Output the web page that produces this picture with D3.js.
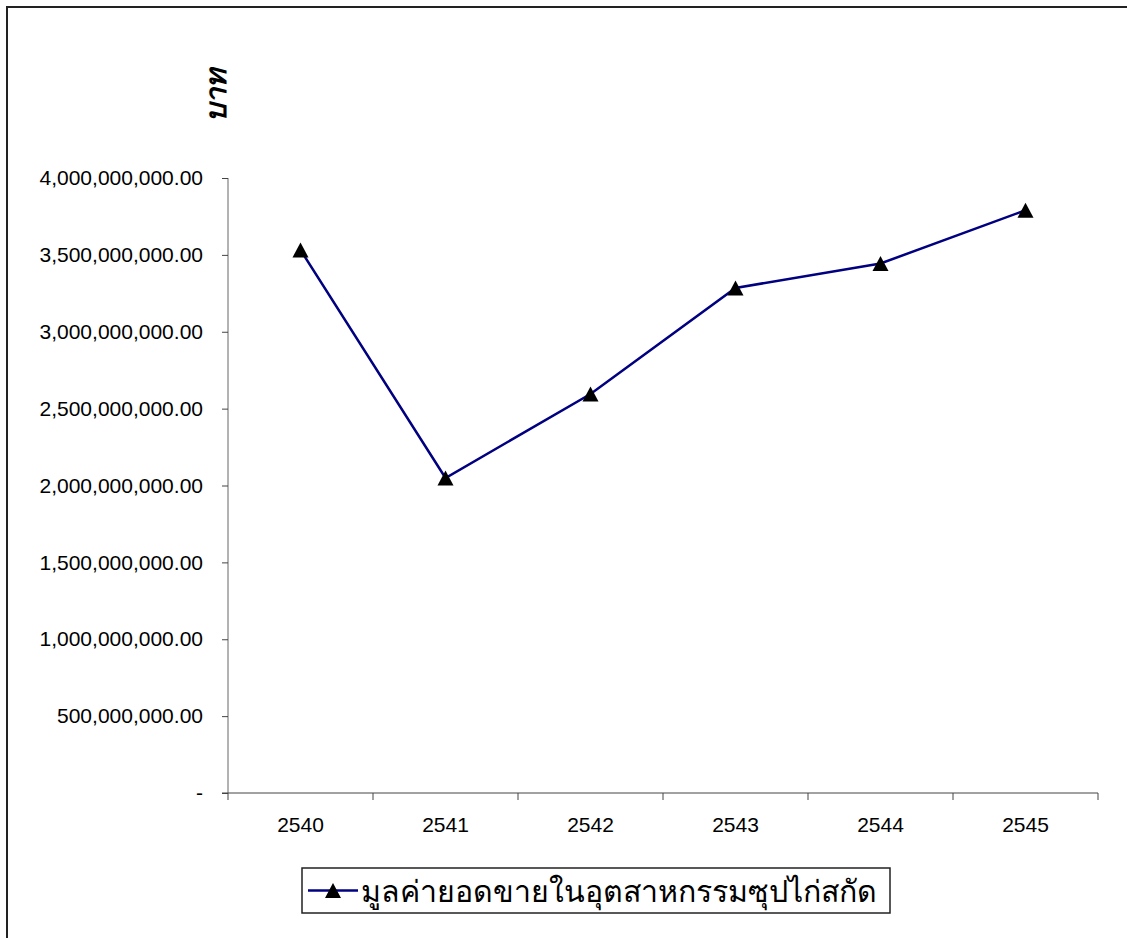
<!DOCTYPE html>
<html>
<head>
<meta charset="utf-8">
<script src="https://cdn.jsdelivr.net/npm/d3@7"></script>
<style>
  html, body { margin: 0; padding: 0; background: #fff; }
  svg { display: block; }
</style>
</head>
<body>
<svg id="chart" width="1127" height="938"></svg>
<script>
// Sales value of the chicken-essence industry, by Buddhist-era year (baht)
const years = ["2540", "2541", "2542", "2543", "2544", "2545"];
const salesValues = [3532000000, 2049000000, 2595000000, 3285000000, 3444000000, 3790000000];
const yTickValues = [0, 500000000, 1000000000, 1500000000, 2000000000, 2500000000, 3000000000, 3500000000, 4000000000];
const seriesName = "มูลค่ายอดขายในอุตสาหกรรมซุปไก่สกัด";
const yAxisTitle = "บาท";

const svg = d3.select("#chart");
const plot = { left: 228, right: 1098, top: 178, bottom: 793 };

const x = d3.scaleBand().domain(years).range([plot.left, plot.right]);
const y = d3.scaleLinear().domain([0, 4000000000]).range([plot.bottom, plot.top]);

const labelFont = "'Liberation Sans', Arial, sans-serif";
const thaiFont = "'Noto Sans', 'DejaVu Sans', sans-serif";

// triangle marker drawn inside a square box centred on the point
function triangle(w, h) {
  const p = d3.path();
  p.moveTo(0, -h / 2);
  p.lineTo(w / 2, h / 2);
  p.lineTo(-w / 2, h / 2);
  p.closePath();
  return p.toString();
}
const markerPath = triangle(16, 15);

// outer frame (top and left edges)
svg.append("path")
  .attr("d", "M7,938 L7,7 L1127,7")
  .attr("fill", "none")
  .attr("stroke", "#222")
  .attr("stroke-width", 2);

// y axis
const fmt = d3.format(",.2f");
const yAxis = d3.axisLeft(y)
  .tickValues(yTickValues)
  .tickSize(6)
  .tickPadding(19)
  .tickFormat(d => d === 0 ? "-" : fmt(d));
const gy = svg.append("g").attr("transform", `translate(${plot.left},0)`).call(yAxis);
gy.select(".domain").attr("stroke", "#666").attr("d", `M0,${plot.top}V${plot.bottom}`);
gy.selectAll(".tick line").attr("stroke", "#444");
gy.selectAll(".tick text")
  .attr("font-family", labelFont)
  .attr("font-size", 21)
  .attr("fill", "#000");

// x axis with tick marks at category boundaries
const gx = svg.append("g").attr("transform", `translate(0,${plot.bottom})`);
gx.append("line")
  .attr("x1", plot.left - 6).attr("x2", plot.right)
  .attr("stroke", "#444");
const boundaries = years.map(d => x(d)).concat([x(years[years.length - 1]) + x.bandwidth()]);
gx.selectAll("line.tk").data(boundaries).join("line")
  .attr("class", "tk")
  .attr("x1", d => d).attr("x2", d => d)
  .attr("y1", 0).attr("y2", 7)
  .attr("stroke", "#444");
gx.selectAll("text").data(years).join("text")
  .attr("x", d => x(d) + x.bandwidth() / 2)
  .attr("y", 39)
  .attr("text-anchor", "middle")
  .attr("font-family", labelFont)
  .attr("font-size", 21)
  .text(d => d);

// y axis title, rotated
svg.append("text")
  .attr("transform", "translate(226,95) rotate(-90)")
  .attr("text-anchor", "middle")
  .attr("font-family", thaiFont)
  .attr("font-size", 29)
  .attr("font-style", "italic")
  .attr("font-weight", "bold")
  .text(yAxisTitle);

// series line
const cx = d => x(d) + x.bandwidth() / 2;
const line = d3.line().x((d, i) => cx(years[i])).y(d => y(d));
svg.append("path")
  .datum(salesValues)
  .attr("d", line)
  .attr("fill", "none")
  .attr("stroke", "#000080")
  .attr("stroke-width", 2.5);

// triangle markers
svg.selectAll("path.marker").data(salesValues).join("path")
  .attr("class", "marker")
  .attr("transform", (d, i) => `translate(${cx(years[i])},${y(d)})`)
  .attr("d", markerPath)
  .attr("fill", "#000");

// legend
const lg = svg.append("g").attr("transform", "translate(302,868)");
lg.append("rect")
  .attr("width", 588).attr("height", 45)
  .attr("fill", "#fff").attr("stroke", "#222").attr("stroke-width", 1.5);
lg.append("line")
  .attr("x1", 6).attr("x2", 56).attr("y1", 22.5).attr("y2", 22.5)
  .attr("stroke", "#000080").attr("stroke-width", 2.5);
lg.append("path")
  .attr("transform", "translate(31,22.5)")
  .attr("d", markerPath).attr("fill", "#000");
lg.append("text")
  .attr("x", 59).attr("y", 34)
  .attr("font-family", thaiFont)
  .attr("font-size", 30.3)
  .text(seriesName);
</script>
</body>
</html>
